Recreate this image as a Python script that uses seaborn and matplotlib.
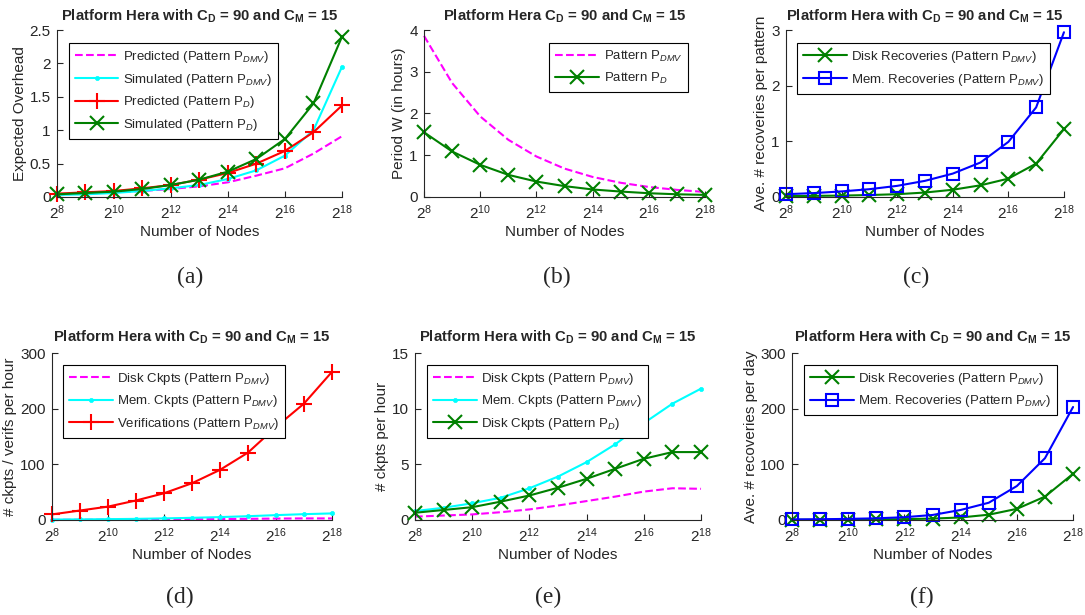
import matplotlib
matplotlib.use('Agg')
import matplotlib.pyplot as plt
import seaborn as sns

sns.set_theme(style='ticks')
plt.rcParams['font.family'] = ['Liberation Sans', 'DejaVu Sans']
plt.rcParams['mathtext.fontset'] = 'custom'
plt.rcParams['mathtext.rm'] = 'Liberation Sans'
plt.rcParams['mathtext.it'] = 'Liberation Sans:italic'
plt.rcParams['mathtext.bf'] = 'Liberation Sans:bold'

# number of nodes, 2^8 .. 2^18
nodes = [256, 512, 1024, 2048, 4096, 8192, 16384, 32768, 65536, 131072, 262144]
tick_nodes = [256, 1024, 4096, 16384, 65536, 262144]
tick_labels = [r'$\mathregular{2^{8}}$', r'$\mathregular{2^{10}}$', r'$\mathregular{2^{12}}$',
               r'$\mathregular{2^{14}}$', r'$\mathregular{2^{16}}$', r'$\mathregular{2^{18}}$']

# (a) expected overhead
pred_dmv = [0.04, 0.05, 0.07, 0.09, 0.12, 0.16, 0.22, 0.32, 0.43, 0.65, 0.91]
sim_dmv = [0.03, 0.04, 0.06, 0.09, 0.13, 0.18, 0.27, 0.40, 0.62, 1.00, 1.95]
pred_d = [0.05, 0.07, 0.09, 0.13, 0.18, 0.26, 0.36, 0.50, 0.69, 0.97, 1.37]
sim_d = [0.04, 0.06, 0.08, 0.12, 0.18, 0.26, 0.38, 0.57, 0.87, 1.40, 2.40]

# (b) period W in hours
period_dmv = [3.86, 2.73, 1.93, 1.37, 0.97, 0.68, 0.48, 0.34, 0.24, 0.17, 0.12]
period_d = [1.55, 1.09, 0.77, 0.53, 0.37, 0.26, 0.18, 0.13, 0.09, 0.065, 0.05]

# (c) recoveries per pattern
disk_rec_pat = [0.015, 0.02, 0.025, 0.035, 0.05, 0.08, 0.13, 0.21, 0.33, 0.60, 1.22]
mem_rec_pat = [0.05, 0.07, 0.10, 0.14, 0.20, 0.29, 0.42, 0.62, 0.99, 1.61, 2.96]

# (d) checkpoints / verifications per hour
disk_ckpt_dmv = [0.3, 0.4, 0.5, 0.7, 0.95, 1.3, 1.7, 2.1, 2.55, 2.85, 2.8]
mem_ckpt_dmv = [0.8, 1.1, 1.5, 2.0, 2.85, 3.9, 5.2, 6.8, 8.7, 10.45, 11.8]
verif_dmv = [10, 17, 24, 35, 48, 66, 90, 121, 167, 209, 266]

# (e) disk checkpoints of pattern P_D
disk_ckpt_d = [0.65, 0.9, 1.15, 1.65, 2.2, 2.9, 3.7, 4.6, 5.5, 6.1, 6.1]

# (f) recoveries per day
disk_rec_day = [0.4, 0.5, 0.7, 1.0, 1.5, 2.5, 4.5, 9.5, 20, 42, 83]
mem_rec_day = [1.0, 1.3, 2.0, 3.0, 5.0, 9.0, 18, 31, 61, 111, 203]

MAG, CYAN, RED, GREEN, BLUE = '#ff00ff', '#00ffff', '#ff0000', '#008000', '#0000ff'
GRAY = '#262626'
TITLE = r'Platform Hera with C$_\mathbf{D}$ = 90 and C$_\mathbf{M}$ = 15'
TITLE_B = r'Platform Hera C$_\mathbf{D}$ = 90 and C$_\mathbf{M}$ = 15'
DMV = r'P$_{\mathit{DMV}}$'
PD = r'P$_{\mathit{D}}$'

fig = plt.figure(figsize=(10.85, 6.15), dpi=100)


def line(ax, y, color, label, style):
    kw = dict(color=color, linewidth=1.5, label=label, markeredgecolor=color, clip_on=False)
    if style == 'dash':
        kw.update(linestyle='--', marker=None)
    elif style == 'dot':
        kw.update(marker='o', markersize=3, markeredgewidth=0.5, markerfacecolor=color)
    elif style == 'plus':
        kw.update(marker='+', markersize=12, markeredgewidth=1.5)
    elif style == 'x':
        kw.update(marker='x', markersize=9.5, markeredgewidth=1.5)
    elif style == 'sq':
        kw.update(marker='s', markersize=9, markeredgewidth=1.5, markerfacecolor='none')
    sns.lineplot(x=nodes, y=y, ax=ax, **kw)


def style_axes(ax, ylim, yticks, yticklabels, ylabel, title, leg_loc, leg_anchor, tpad):
    ax.set_xscale('log', base=2)
    ax.set_xlim(256, 262144)
    ax.set_xticks(tick_nodes)
    ax.set_xticklabels(tick_labels)
    ax.minorticks_off()
    ax.set_ylim(*ylim)
    ax.set_yticks(yticks)
    ax.set_yticklabels(yticklabels)
    ax.tick_params(direction='in', length=4, width=0.8, colors=GRAY, labelsize=11, pad=4.5)
    for s in ['top', 'right']:
        ax.spines[s].set_visible(False)
    for s in ['left', 'bottom']:
        ax.spines[s].set_color(GRAY)
        ax.spines[s].set_linewidth(0.8)
    ax.set_xlabel('Number of Nodes', fontsize=11, color=GRAY, labelpad=2)
    ax.set_ylabel(ylabel, fontsize=11, color=GRAY, labelpad=2)
    ax.set_title(title, fontsize=10.7, fontweight='bold', pad=tpad)
    leg = ax.legend(loc=leg_loc, bbox_to_anchor=leg_anchor, fontsize=9.5, frameon=True,
                    fancybox=False, framealpha=1, edgecolor='black', handlelength=3.3,
                    labelspacing=0.5, borderpad=0.45, handletextpad=0.35, borderaxespad=0)
    leg.get_frame().set_linewidth(0.8)
    leg.set_zorder(10)


# (a)
ax = fig.add_axes([0.0525, 0.6797, 0.2627, 0.2715])
line(ax, pred_dmv, MAG, f'Predicted (Pattern {DMV})', 'dash')
line(ax, sim_dmv, CYAN, f'Simulated (Pattern {DMV})', 'dot')
line(ax, pred_d, RED, f'Predicted (Pattern {PD})', 'plus')
line(ax, sim_d, GREEN, f'Simulated (Pattern {PD})', 'x')
style_axes(ax, (0, 2.5), [0, 0.5, 1, 1.5, 2, 2.5], ['0', '0.5', '1', '1.5', '2', '2.5'],
           'Expected Overhead', TITLE, 'upper left', (0.042, 0.922), 7)

# (b)
ax = fig.add_axes([0.3908, 0.6797, 0.259, 0.2715])
line(ax, period_dmv, MAG, f'Pattern {DMV}', 'dash')
line(ax, period_d, GREEN, f'Pattern {PD}', 'x')
style_axes(ax, (0, 4), [0, 1, 2, 3, 4], ['0', '1', '2', '3', '4'],
           'Period W (in hours)', TITLE_B, 'upper right', (0.94, 0.922), 7)

# (c)
ax = fig.add_axes([0.7244, 0.6797, 0.2562, 0.2715])
line(ax, disk_rec_pat, GREEN, f'Disk Recoveries (Pattern {DMV})', 'x')
line(ax, mem_rec_pat, BLUE, f'Mem. Recoveries (Pattern {DMV})', 'sq')
style_axes(ax, (0, 3), [0, 1, 2, 3], ['0', '1', '2', '3'],
           'Ave. # recoveries per pattern', TITLE, 'upper left', (0.04, 0.922), 7)

# (d)
ax = fig.add_axes([0.0479, 0.1545, 0.258, 0.2715])
line(ax, disk_ckpt_dmv, MAG, f'Disk Ckpts (Pattern {DMV})', 'dash')
line(ax, mem_ckpt_dmv, CYAN, f'Mem. Ckpts (Pattern {DMV})', 'dot')
line(ax, verif_dmv, RED, f'Verifications (Pattern {DMV})', 'plus')
style_axes(ax, (0, 300), [0, 100, 200, 300], ['0', '100', '200', '300'],
           '# ckpts / verifs per hour', TITLE, 'upper left', (0.04, 0.93), 8.5)

# (e)
ax = fig.add_axes([0.3825, 0.1545, 0.2636, 0.2715])
line(ax, disk_ckpt_dmv, MAG, f'Disk Ckpts (Pattern {DMV})', 'dash')
line(ax, mem_ckpt_dmv, CYAN, f'Mem. Ckpts (Pattern {DMV})', 'dot')
line(ax, disk_ckpt_d, GREEN, f'Disk Ckpts (Pattern {PD})', 'x')
style_axes(ax, (0, 15), [0, 5, 10, 15], ['0', '5', '10', '15'],
           '# ckpts per hour', TITLE, 'upper left', (0.042, 0.93), 8.5)

# (f)
ax = fig.add_axes([0.73, 0.1545, 0.259, 0.2715])
line(ax, disk_rec_day, GREEN, f'Disk Recoveries (Pattern {DMV})', 'x')
line(ax, mem_rec_day, BLUE, f'Mem. Recoveries (Pattern {DMV})', 'sq')
style_axes(ax, (0, 300), [0, 100, 200, 300], ['0', '100', '200', '300'],
           'Ave. # recoveries per day', TITLE, 'upper left', (0.043, 0.93), 8.5)

# sub-figure captions
for lab, x, y in [('(a)', 0.175, 0.549), ('(b)', 0.513, 0.549), ('(c)', 0.844, 0.549),
                  ('(d)', 0.166, 0.029), ('(e)', 0.505, 0.029), ('(f)', 0.85, 0.029)]:
    fig.text(x, y, lab, ha='center', va='center', fontsize=17, family='Liberation Serif')

fig.savefig('out.png', dpi=100)
